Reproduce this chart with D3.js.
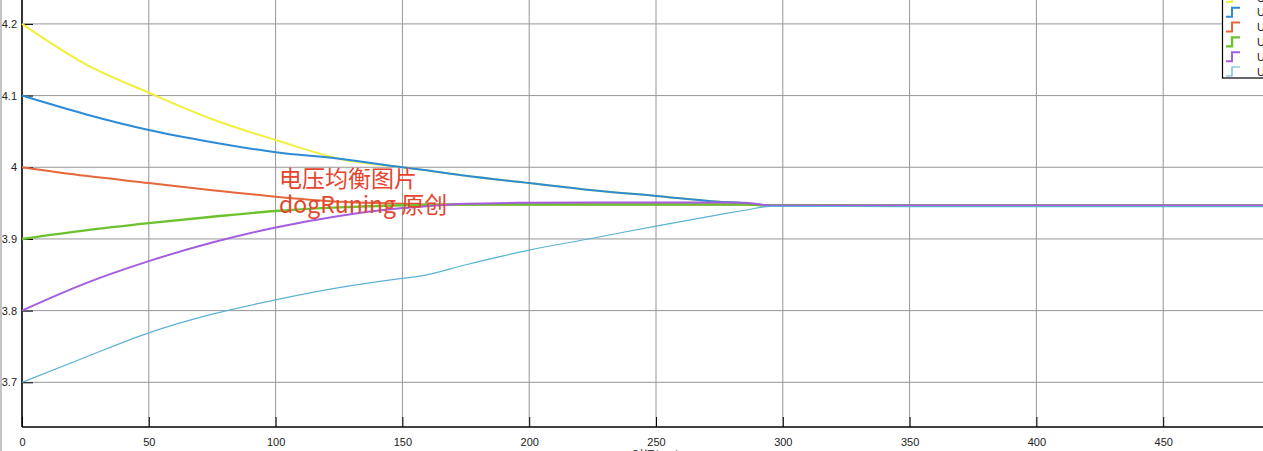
<!DOCTYPE html>
<html>
<head>
<meta charset="utf-8">
<script src="https://cdn.jsdelivr.net/npm/d3@7"></script>
<style>
  body { margin: 0; background: #fff; overflow: hidden; }
  svg { display: block; font-family: 'Liberation Sans', Arial, sans-serif; }
</style>
</head>
<body>
<svg id="chart"></svg>
<script>
// sample times (s) and cell voltages
const times = [0, 25, 50, 75, 100, 125, 150, 157, 175, 200, 225, 250, 275, 285, 295, 350, 400, 450, 500];

const u1 = [4.200, 4.144, 4.104, 4.067, 4.038, 4.012, 4.000, 3.997, 3.988, 3.978, 3.968, 3.960, 3.952, 3.950, 3.9467, 3.9465, 3.9465, 3.9465, 3.9465];
const u2 = [4.100, 4.074, 4.052, 4.035, 4.021, 4.012, 4.000, 3.997, 3.988, 3.978, 3.968, 3.960, 3.952, 3.950, 3.9467, 3.9465, 3.9465, 3.9465, 3.9465];
const u3 = [4.000, 3.988, 3.978, 3.968, 3.959, 3.952, 3.949, 3.948, 3.948, 3.948, 3.948, 3.948, 3.948, 3.948, 3.9467, 3.9465, 3.9465, 3.9465, 3.9465];
const u4 = [3.900, 3.912, 3.922, 3.931, 3.939, 3.944, 3.947, 3.9475, 3.948, 3.948, 3.948, 3.948, 3.948, 3.948, 3.9467, 3.9465, 3.9465, 3.9465, 3.9465];
const u5 = [3.800, 3.838, 3.869, 3.895, 3.916, 3.932, 3.943, 3.945, 3.949, 3.9505, 3.951, 3.951, 3.951, 3.9505, 3.9467, 3.9465, 3.9465, 3.9465, 3.9465];
const u6 = [3.700, 3.735, 3.769, 3.795, 3.815, 3.832, 3.845, 3.848, 3.864, 3.8845, 3.901, 3.918, 3.934, 3.940, 3.9455, 3.945, 3.945, 3.945, 3.945];

const seriesNames = ['U1', 'U2', 'U3', 'U4', 'U5', 'U6'];
const seriesValues = [u1, u2, u3, u4, u5, u6];
const seriesColors = ['#f0f03c', '#2d8bd6', '#e5673b', '#6cc22e', '#a35ddf', '#5cb2d2'];
const seriesWidths = [2, 2, 2, 2.4, 2, 1.2];

const xTicks = [0, 50, 100, 150, 200, 250, 300, 350, 400, 450, 500];
const yTicks = [3.7, 3.8, 3.9, 4.0, 4.1, 4.2];

const xLabel = '时间(sec)';
const watermark = ['电压均衡图片', 'dogRuning 原创'];

const config = {
  w: 1263,
  h: 451,
  left: 22,
  bottom: 427
};

function createChart({w, h, left, bottom}) {
  const svg = d3.select('#chart')
    .attr('width', w)
    .attr('height', h);

  // plot extends past the right and top edges of the captured window
  const x = d3.scaleLinear()
    .domain([0, 500])
    .range([left, left + 500 * 2.536]);

  const y = d3.scaleLinear()
    .domain([3.7, 4.2])
    .range([382.3, 23.9]);

  const top = -20;

  // gray window edge on the far left
  svg.append('rect')
    .attr('x', 0)
    .attr('y', 0)
    .attr('width', 2)
    .attr('height', h)
    .style('fill', '#c4c4c4');

  const grid = svg.append('g');

  grid.selectAll('.vgrid')
    .data(xTicks)
    .join('line')
    .attr('class', 'vgrid')
    .attr('x1', d => x(d))
    .attr('x2', d => x(d))
    .attr('y1', top)
    .attr('y2', bottom)
    .style('stroke', '#969696')
    .style('stroke-width', 1);

  grid.selectAll('.hgrid')
    .data(yTicks)
    .join('line')
    .attr('class', 'hgrid')
    .attr('x1', left)
    .attr('x2', w + 40)
    .attr('y1', d => y(d))
    .attr('y2', d => y(d))
    .style('stroke', '#969696')
    .style('stroke-width', 1);

  // axes: ticks point inward like the scope's
  svg.append('g')
    .attr('transform', `translate(0, ${bottom})`)
    .call(d3.axisBottom(x).tickValues(xTicks).tickSize(-10).tickPadding(8).tickSizeOuter(0))
    .call(g => g.select('.domain').remove())
    .call(g => g.selectAll('line').style('stroke', '#000'))
    .call(g => g.selectAll('text')
      .attr('y', 11)
      .style('font-size', '11px')
      .style('fill', '#222'));

  svg.append('g')
    .attr('transform', `translate(${left}, 0)`)
    .call(d3.axisLeft(y).tickValues(yTicks).tickFormat(d => d3.format('')(+d.toFixed(1))).tickSize(-11).tickPadding(5).tickSizeOuter(0))
    .call(g => g.select('.domain').remove())
    .call(g => g.selectAll('line').style('stroke', '#000'))
    .call(g => g.selectAll('text')
      .style('font-size', '11px')
      .style('fill', '#222'));

  svg.append('line')
    .attr('x1', left)
    .attr('x2', left)
    .attr('y1', top)
    .attr('y2', bottom)
    .style('stroke', '#000')
    .style('stroke-width', 1.5);

  svg.append('line')
    .attr('x1', left)
    .attr('x2', w + 40)
    .attr('y1', bottom)
    .attr('y2', bottom)
    .style('stroke', '#000')
    .style('stroke-width', 1.5);

  svg.append('text')
    .attr('x', x(250))
    .attr('y', bottom + 32)
    .attr('text-anchor', 'middle')
    .style('font-size', '11px')
    .style('font-family', "'Noto Sans CJK SC', sans-serif")
    .style('fill', '#222')
    .text(xLabel);

  const line = d3.line()
    .x((d, i) => x(times[i]))
    .y(d => y(d))
    .curve(d3.curveMonotoneX);

  svg.append('g')
    .selectAll('path')
    .data(seriesValues)
    .join('path')
    .attr('d', line)
    .style('fill', 'none')
    .style('stroke', (d, i) => seriesColors[i])
    .style('stroke-width', (d, i) => seriesWidths[i])
    .style('stroke-linejoin', 'round');

  // watermark text over the plot
  svg.append('g')
    .style('font-family', "'Noto Sans CJK SC', 'Liberation Sans', sans-serif")
    .style('font-size', '23px')
    .style('fill', '#e5452f')
    .selectAll('text')
    .data(watermark)
    .join('text')
    .attr('x', 279)
    .attr('y', (d, i) => 187 + i * 26)
    .text(d => d);

  // legend box, cut by the top and right edges
  const legend = svg.append('g');

  legend.append('rect')
    .attr('x', 1222.5)
    .attr('y', -10)
    .attr('width', 80)
    .attr('height', 88)
    .style('fill', '#fff')
    .style('stroke', '#000')
    .style('stroke-width', 1.2);

  const rowY = d3.scaleLinear().domain([0, 5]).range([-2.5, 71.5]);

  const rows = legend.selectAll('.row')
    .data(seriesNames)
    .join('g')
    .attr('class', 'row')
    .attr('transform', (d, i) => `translate(0, ${rowY(i)})`);

  rows.append('path')
    .attr('d', 'M1226,4.5H1232V-4.5H1240')
    .style('fill', 'none')
    .style('stroke', (d, i) => seriesColors[i])
    .style('stroke-width', (d, i) => seriesWidths[i]);

  rows.append('text')
    .attr('x', 1257)
    .attr('y', 4)
    .style('font-size', '11px')
    .style('fill', '#222')
    .text(d => d);
}

createChart(config);
</script>
</body>
</html>
